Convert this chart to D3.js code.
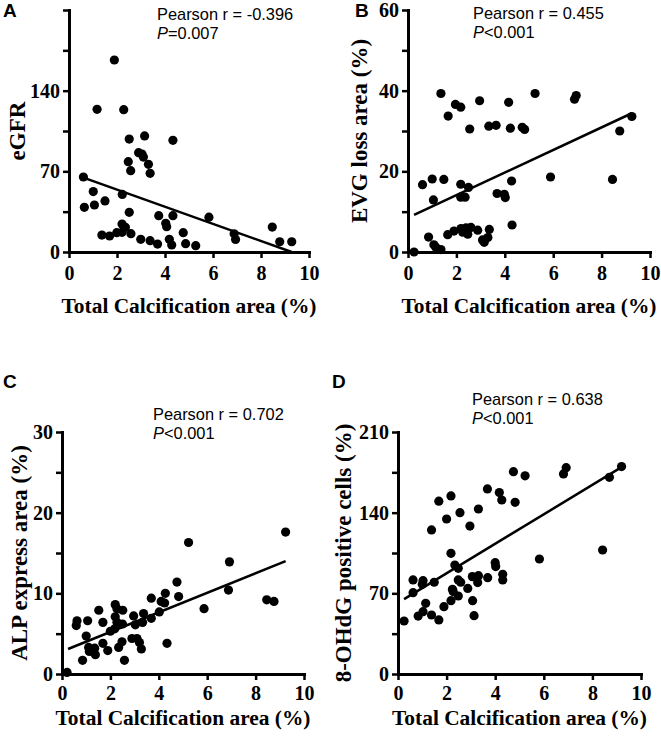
<html>
<head>
<meta charset="utf-8">
<title>Calcification correlations</title>
<style>
 body{margin:0;background:#fff;}
 svg text.tk{font:bold 20px 'Liberation Serif', 'Times New Roman', serif;fill:#000;}
 svg text.ttl{font:bold 23px 'Liberation Serif', 'Times New Roman', serif;fill:#000;}
 svg text.xttl{font:bold 21.4px 'Liberation Serif', 'Times New Roman', serif;fill:#000;}
 svg text.stat{font:16.4px 'Liberation Sans', Arial, sans-serif;fill:#000;}
 svg text.letter{font:bold 19px 'Liberation Sans', Arial, sans-serif;fill:#000;}
</style>
<script src="https://cdnjs.cloudflare.com/ajax/libs/d3/7.8.5/d3.min.js"></script>
</head>
<body>
<div id="plot"></div>
<script>
// shared x axis
var xTicks = [0, 2, 4, 6, 8, 10];
var xTitle = "Total Calcification area (%)";

// A: eGFR
var aPts = [[1.89,166.6],[1.17,123.8],[2.28,123.5],[2.51,98],[3.15,100.7],[4.33,96.9],
  [2.9,86.2],[3.04,85],[3.1,82.4],[2.47,78.4],[3.31,76.1],[2.57,70.6],[3.38,68.3],
  [0.6,65.1],[2.22,50],[1.01,52.4],[0.64,38.8],[1.06,40.8],[1.5,44.3],[2.51,34.4],
  [3.74,31.5],[4.33,31.5],[4.03,24.9],[4.07,22],[1.37,14.7],[1.69,13.9],[1.99,16.8],
  [2.21,17.1],[2.35,21.4],[2.21,24.3],[2.58,15.9],[2.99,11],[3.38,9.8],[3.69,6.9],
  [4.18,11],[4.28,6.1],[4.76,16.8],[4.86,7.2],[5.28,5.5],[5.83,30.2],[6.88,15.8],
  [6.94,10.9],[8.47,21.6],[8.78,8.9],[9.28,8.9]];
var aFit = [[0.6,64.5],[9.28,0]];
var aTicks = [0,35,70,105,140,175,210];
var aLabels = [0,70,140];

// B: EVG loss
var bPts = [[0.25,0],[0.6,16.7],[1.0,18.1],[1.48,18.0],[1.05,12.9],[0.85,3.7],[1.07,1.8],
  [1.15,1.2],[1.36,0.6],[1.36,39.3],[1.66,33.7],[1.96,36.6],[2.18,35.9],[2.96,37.5],
  [2.55,30.5],[3.34,31.2],[3.64,31.4],[4.16,37.1],[4.23,30.7],[4.72,30.9],[4.82,30.4],
  [5.25,39.3],[2.18,16.8],[2.5,16],[2.18,13.6],[2.36,13.6],[3.68,14.5],[3.98,14.3],
  [4.02,13.5],[4.28,17.6],[4.3,6.7],[1.64,4.3],[1.9,5.2],[2.19,5.8],[2.26,4.9],[2.4,6.0],
  [2.47,4.4],[2.6,6.1],[2.88,5.4],[3.08,3.0],[3.15,2.4],[3.3,3.6],[3.36,5.6],[5.89,18.6],
  [6.88,37.9],[6.95,38.8],[8.45,18],[8.75,30],[9.25,33.6]];
var bFit = [[0.25,9.2],[9.25,34.4]];
var bTicks = [0,10,20,30,40,50,60];
var bLabels = [0,20,40,60];

// C: ALP express
var cPts = [[0.21,0.2],[0.62,6.6],[0.59,6.0],[1.06,6.6],[1.52,7.9],[1.69,6.4],[1.0,4.7],
  [0.85,1.7],[1.1,3.3],[1.35,3.2],[1.38,2.4],[1.13,2.8],[1.69,3.8],[1.89,2.9],[2.0,5.3],
  [2.2,8.6],[2.27,8.1],[2.51,7.9],[2.2,7.1],[2.27,6.4],[2.18,5.6],[2.5,6.2],[2.48,4.0],
  [2.34,3.3],[2.58,1.7],[2.96,7.2],[3.03,6.1],[2.89,4.4],[3.1,4.4],[3.2,3.9],[3.28,3.1],
  [3.33,6.4],[3.37,7.5],[3.69,9.4],[3.69,6.9],[4.02,7.7],[4.1,9.0],[4.24,8.8],[4.27,10],
  [4.34,3.8],[4.75,11.4],[4.82,9.6],[5.23,16.3],[5.87,8.1],[6.92,13.9],[6.88,10.4],
  [8.46,9.2],[8.76,9.0],[9.24,17.6]];
var cFit = [[0.25,3.1],[9.24,14.0]];
var cTicks = [0,5,10,15,20,25,30];
var cLabels = [0,10,20,30];

// D: 8-OHdG
var dPts = [[0.25,46],[0.62,70.6],[0.62,81.6],[1.03,81],[1.0,77.8],[1.49,79.6],[1.14,61.3],
  [0.83,50.3],[1.03,54.1],[1.38,51.2],[1.68,46.9],[1.89,58.4],[1.38,125],[1.68,150],
  [2.18,154.5],[2.0,134.5],[2.55,140],[2.96,128.4],[2.18,104.7],[2.34,94.6],[2.48,91.7],
  [2.24,73.5],[2.27,71.5],[2.48,81.6],[2.58,79.6],[2.18,63.6],[2.48,67.7],[2.87,74.3],
  [3.06,84.5],[3.31,85.3],[3.28,79.3],[3.07,63.6],[3.13,50.6],[3.69,83.6],[3.31,143.2],
  [3.68,160.6],[4.0,96.6],[4.02,93.2],[4.31,86.5],[4.31,81.6],[4.17,157.4],[4.27,151],
  [4.75,175.6],[4.82,149],[5.23,172],[5.82,99.8],[6.81,173.6],[6.92,179],[8.42,107.6],
  [8.7,170.7],[9.2,180]];
var dFit = [[0.25,65],[9.2,179.5]];
var dTicks = [0,35,70,105,140,175,210];
var dLabels = [0,70,140,210];

var letters = ["A", "B", "C", "D"];
var yTitles = ["eGFR", "EVG loss area (%)", "ALP express area (%)", "8-OHdG positive cells (%)"];
var rTexts = ["Pearson r = -0.396", "Pearson r = 0.455", "Pearson r = 0.702", "Pearson r = 0.638"];
var pTexts = ["=0.007", "<0.001", "<0.001", "<0.001"];

var w = 661, h = 742;

var svg = d3.select("#plot").append("svg")
  .attr("width", w)
  .attr("height", h);

// panel boxes (pixel layout)
var boxes = [
  {x0: 69, x1: 309, y0: 252, y1: 10, lx: 3, ly: 17, sx: 157, sy: 20, tx: 25, xt: 313, pad: 8},
  {x0: 408, x1: 650, y0: 252, y1: 10, lx: 355, ly: 17, sx: 473, sy: 19, tx: 367, xt: 313, pad: 8},
  {x0: 62, x1: 304, y0: 674, y1: 432, lx: 3, ly: 388, sx: 153, sy: 420, tx: 27, xt: 725, pad: 6},
  {x0: 398, x1: 641, y0: 674, y1: 432, lx: 332, ly: 388, sx: 472, sy: 405, tx: 351, xt: 725, pad: 6}
];

function drawPanel(i, pts, fit, yTicks, yLabels) {
  var b = boxes[i];
  var x = d3.scaleLinear().domain([0, 10]).range([b.x0, b.x1]);
  var y = d3.scaleLinear().domain([0, yTicks[yTicks.length - 1]]).range([b.y0, b.y1]);
  var g = svg.append("g");

  var xa = g.append("g")
    .attr("transform", "translate(0," + b.y0 + ")")
    .call(d3.axisBottom(x).tickValues(xTicks).tickSize(6).tickSizeOuter(0).tickPadding(b.pad));
  var ya = g.append("g")
    .attr("transform", "translate(" + b.x0 + ",0)")
    .call(d3.axisLeft(y).tickValues(yTicks).tickSize(6).tickSizeOuter(0).tickPadding(3)
      .tickFormat(function(d) { return yLabels.indexOf(d) >= 0 ? d : ""; }));

  [xa, ya].forEach(function(a) {
    a.select(".domain").attr("stroke", "#000").attr("stroke-width", 3).attr("stroke-linecap", "square");
    a.selectAll(".tick line").attr("stroke", "#000").attr("stroke-width", 2.5);
    a.selectAll(".tick text").attr("class", "tk");
  });

  g.append("path")
    .datum(fit)
    .attr("fill", "none")
    .attr("stroke", "#000")
    .attr("stroke-width", 2.5)
    .attr("d", d3.line().x(function(d) { return x(d[0]); }).y(function(d) { return y(d[1]); }));

  g.selectAll("circle")
    .data(pts)
    .enter()
    .append("circle")
    .attr("cx", function(d) { return x(d[0]); })
    .attr("cy", function(d) { return y(d[1]); })
    .attr("r", 4.6)
    .attr("fill", "#000");

  g.append("text").attr("class", "xttl")
    .attr("x", (b.x0 + b.x1) / 2).attr("y", b.xt)
    .attr("text-anchor", "middle")
    .text(xTitle);

  g.append("text").attr("class", "ttl")
    .attr("transform", "translate(" + b.tx + "," + ((b.y0 + b.y1) / 2) + ") rotate(-90)")
    .attr("text-anchor", "middle")
    .text(yTitles[i]);

  g.append("text").attr("class", "letter")
    .attr("x", b.lx).attr("y", b.ly)
    .text(letters[i]);

  g.append("text").attr("class", "stat")
    .attr("x", b.sx).attr("y", b.sy)
    .text(rTexts[i]);
  var p = g.append("text").attr("class", "stat")
    .attr("x", b.sx).attr("y", b.sy + 19);
  p.append("tspan").attr("font-style", "italic").text("P");
  p.append("tspan").text(pTexts[i]);
}

drawPanel(0, aPts, aFit, aTicks, aLabels);
drawPanel(1, bPts, bFit, bTicks, bLabels);
drawPanel(2, cPts, cFit, cTicks, cLabels);
drawPanel(3, dPts, dFit, dTicks, dLabels);
</script>
</body>
</html>
